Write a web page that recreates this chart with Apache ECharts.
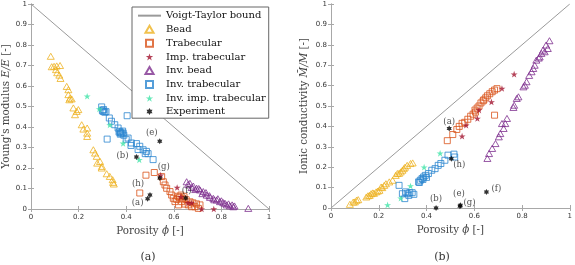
<!DOCTYPE html>
<html><head><meta charset="utf-8">
<script src="https://cdn.jsdelivr.net/npm/echarts@6/dist/echarts.min.js"></script>
<style>html,body{margin:0;padding:0;background:#fff}#c{width:575px;height:265px}</style>
</head><body><div id="c"></div><script>
// ---- tick labels ----
const xTicks = [0, 0.2, 0.4, 0.6, 0.8, 1];
const yTicks = [0, 0.1, 0.2, 0.3, 0.4, 0.5, 0.6, 0.7, 0.8, 0.9, 1];

// ---- bound lines ----
const voigtA = [[0, 1], [1, 0]];
const voigtB = [[0, 0], [1, 1]];

// ---- (a) Young's modulus vs porosity ----
const beadA = [[0.083,0.745],[0.087,0.694],[0.097,0.696],[0.108,0.698],[0.122,0.700],[0.105,0.680],[0.110,0.665],[0.119,0.653],[0.124,0.637],
  [0.150,0.598],[0.157,0.582],[0.157,0.558],[0.164,0.541],[0.161,0.533],[0.171,0.537],[0.178,0.493],[0.192,0.476],[0.185,0.460],[0.199,0.485],
  [0.213,0.411],[0.220,0.390],[0.236,0.395],[0.236,0.370],[0.236,0.354],[0.262,0.289],[0.269,0.273],[0.276,0.257],[0.278,0.224],[0.290,0.232],
  [0.298,0.208],[0.297,0.200],[0.318,0.172],[0.331,0.159],[0.343,0.143],[0.345,0.130],[0.348,0.122]];
const trabA = [[0.457,0.078],[0.483,0.165],[0.518,0.178],[0.549,0.158],[0.556,0.133],[0.563,0.117],[0.570,0.101],[0.584,0.085],[0.591,0.068],
  [0.598,0.052],[0.605,0.036],[0.612,0.047],[0.618,0.062],[0.624,0.057],[0.630,0.068],[0.633,0.036],[0.638,0.050],[0.643,0.060],[0.647,0.024],
  [0.652,0.045],[0.661,0.020],[0.668,0.035],[0.675,0.011],[0.680,0.030],[0.689,0.011],[0.695,0.025],[0.703,0.003],[0.710,0.020],[0.620,0.020]];
const impTrabA = [[0.545,0.165],[0.614,0.105],[0.630,0.060],[0.660,0.030],[0.675,0.030],[0.717,0.000],[0.768,0.000]];
const invBeadA = [[0.654,0.133],[0.668,0.125],[0.682,0.112],[0.696,0.101],[0.710,0.093],[0.724,0.085],[0.738,0.068],[0.752,0.057],[0.766,0.052],
  [0.780,0.044],[0.794,0.036],[0.808,0.031],[0.822,0.020],[0.836,0.015],[0.850,0.011],[0.913,0.003],[0.660,0.120],[0.675,0.105],[0.690,0.095],
  [0.705,0.100],[0.720,0.075],[0.735,0.080],[0.750,0.065],[0.770,0.045],[0.785,0.050],[0.800,0.040],[0.815,0.028],[0.830,0.025],[0.845,0.020],[0.855,0.015]];
const invTrabA = [[0.297,0.498],[0.303,0.476],[0.310,0.472],[0.300,0.480],[0.305,0.485],[0.315,0.475],[0.329,0.444],[0.338,0.428],[0.352,0.411],
  [0.366,0.395],[0.373,0.379],[0.376,0.371],[0.387,0.371],[0.370,0.375],[0.375,0.365],[0.380,0.370],[0.385,0.380],[0.390,0.360],[0.404,0.455],
  [0.320,0.341],[0.400,0.340],[0.408,0.346],[0.422,0.322],[0.420,0.310],[0.443,0.319],[0.457,0.306],[0.450,0.290],[0.471,0.289],[0.485,0.281],
  [0.480,0.270],[0.492,0.270],[0.513,0.241]];
const invImpA = [[0.236,0.550],[0.287,0.488],[0.331,0.410],[0.387,0.320],[0.455,0.240]];
const expLabels = ['(a)', '(b)', '(e)', '(f)', '(g)', '(h)'];
const expA = [[0.490,0.050],[0.443,0.254],[0.541,0.330],[0.650,0.054],[0.541,0.151],[0.500,0.068]];

// ---- (b) ionic conductivity vs porosity ----
const beadB = [[0.079,0.018],[0.093,0.029],[0.107,0.038],[0.114,0.041],[0.100,0.030],[0.148,0.054],[0.162,0.062],[0.168,0.070],[0.175,0.074],
  [0.189,0.079],[0.196,0.083],[0.203,0.087],[0.210,0.103],[0.223,0.111],[0.230,0.119],[0.244,0.128],[0.258,0.136],[0.271,0.160],[0.278,0.169],
  [0.292,0.177],[0.299,0.185],[0.305,0.193],[0.319,0.209],[0.333,0.218],[0.342,0.221],[0.155,0.060],[0.180,0.072],[0.215,0.100],[0.285,0.170],[0.310,0.200]];
const trabB = [[0.487,0.330],[0.510,0.360],[0.527,0.385],[0.537,0.400],[0.549,0.415],[0.560,0.420],[0.573,0.435],[0.585,0.450],[0.595,0.460],
  [0.603,0.480],[0.612,0.490],[0.620,0.500],[0.628,0.515],[0.637,0.525],[0.648,0.540],[0.655,0.550],[0.665,0.560],[0.675,0.570],[0.685,0.578],
  [0.695,0.585],[0.685,0.455],[0.605,0.470],[0.640,0.530]];
const impTrabB = [[0.549,0.352],[0.566,0.406],[0.613,0.439],[0.672,0.520],[0.716,0.586],[0.767,0.656],[0.620,0.480]];
const invBeadB = [[0.915,0.820],[0.901,0.799],[0.908,0.782],[0.888,0.774],[0.881,0.758],[0.874,0.741],[0.860,0.725],[0.853,0.700],[0.847,0.684],
  [0.840,0.668],[0.819,0.619],[0.812,0.602],[0.806,0.594],[0.785,0.545],[0.778,0.537],[0.767,0.504],[0.764,0.493],[0.737,0.439],[0.730,0.414],
  [0.723,0.390],[0.709,0.365],[0.703,0.349],[0.689,0.316],[0.675,0.292],[0.662,0.267],[0.655,0.243],[0.895,0.766],[0.870,0.735],[0.830,0.650],[0.716,0.414]];
const invTrabB = [[0.285,0.111],[0.299,0.070],[0.312,0.079],[0.319,0.070],[0.326,0.062],[0.347,0.067],[0.340,0.075],[0.330,0.075],[0.309,0.046],
  [0.367,0.128],[0.374,0.136],[0.381,0.144],[0.388,0.152],[0.395,0.160],[0.408,0.169],[0.422,0.185],[0.436,0.193],[0.449,0.209],[0.460,0.218],
  [0.477,0.234],[0.490,0.259],[0.515,0.264],[0.518,0.250],[0.370,0.125],[0.385,0.140],[0.400,0.150]];
const invImpB = [[0.237,0.015],[0.292,0.048],[0.333,0.108],[0.390,0.200],[0.457,0.268]];
const expB = [[0.495,0.390],[0.440,0.000],[0.540,0.008],[0.651,0.079],[0.542,0.013],[0.504,0.242]];

// ---- styling (not data) ----
const SERIF = 'DejaVu Serif';
const AX = '#a8a8a8';
const C = {bead:'#EDB120', trab:'#D95319', imp:'#A2142F', ibead:'#7E2F8E', itrab:'#2a86d0', iimp:'#40E3A8', exp:'#000'};
const TRI = 'path://M0,-1L0.866,0.5L-0.866,0.5Z';
const SQR = 'path://M-1,-1L1,-1L1,1L-1,1Z';
const PENTA = 'path://M0,-1L0.2245,-0.309L0.951,-0.309L0.3633,0.118L0.5878,0.809L0,0.382L-0.5878,0.809L-0.3633,0.118L-0.951,-0.309L-0.2245,-0.309Z';
const HEXA = 'path://M0,-1L0.289,-0.5L0.866,-0.5L0.577,0L0.866,0.5L0.289,0.5L0,1L-0.289,0.5L-0.866,0.5L-0.577,0L-0.866,-0.5L-0.289,-0.5Z';
// label offsets, same order as expLabels (a, b, e, f, g, h)
const offA = [[-10,4],[-14,-1],[-8,-9],[1,-7],[4,-11],[-12,-11]];
const offB = [[0,-7],[0,-9],[-1,-13],[10,-3],[9,-3],[8,6]];
const TITLE_FS = 10.3;

function xAx(grid, top) {
  return {type:'value', gridIndex:grid, min:xTicks[0], max:xTicks[xTicks.length-1], interval:xTicks[1]-xTicks[0],
    position: top ? 'top' : 'bottom',
    name: top ? '' : 'Porosity {i|ϕ} [-]', nameLocation:'middle', nameGap:13,
    nameTextStyle:{fontFamily:SERIF, fontSize:TITLE_FS, color:'#444', rich:{i:{fontFamily:SERIF, fontStyle:'italic', fontSize:TITLE_FS, color:'#444'}}},
    axisLine:{lineStyle:{color:AX, width:1}}, axisTick:{show:true, inside:true, length:3, lineStyle:{color:AX}},
    axisLabel:{show:!top, margin:5, fontFamily:'DejaVu Sans', fontSize:7, color:'#333',
      formatter:v => { const i = xTicks.findIndex(t => Math.abs(t - v) < 1e-9); return i >= 0 ? String(xTicks[i]) : ''; }},
    splitLine:{show:false}};
}
function yAx(grid, right, name, gap) {
  return {type:'value', gridIndex:grid, min:yTicks[0], max:yTicks[yTicks.length-1], interval:yTicks[1]-yTicks[0],
    position: right ? 'right' : 'left',
    name: right ? '' : name, nameLocation:'middle', nameGap:gap,
    nameTextStyle:{fontFamily:SERIF, fontSize:TITLE_FS, color:'#444', rich:{i:{fontFamily:SERIF, fontStyle:'italic', fontSize:TITLE_FS, color:'#444'}}},
    axisLine:{lineStyle:{color:AX, width:1}}, axisTick:{show:true, inside:true, length:3, lineStyle:{color:AX}},
    axisLabel:{show:!right, margin:4, fontFamily:'DejaVu Sans', fontSize:7, color:'#333',
      formatter:v => { const i = yTicks.findIndex(t => Math.abs(t - v) < 1e-9); return i >= 0 ? String(yTicks[i]) : ''; }},
    splitLine:{show:false}};
}
function hollow(name, data, grid, symbol, color, size) {
  return {type:'scatter', name, data, xAxisIndex:grid*2, yAxisIndex:grid*2, symbol, symbolSize:size, symbolKeepAspect:true,
    itemStyle:{color:'none', borderColor:color, borderWidth:1}, emphasis:{disabled:true}, z:3};
}
function filled(name, data, grid, symbol, color, size) {
  return {type:'scatter', name, data, xAxisIndex:grid*2, yAxisIndex:grid*2, symbol, symbolSize:size, symbolKeepAspect:true,
    itemStyle:{color:color}, emphasis:{disabled:true}, z:4};
}
function voigt(data, grid) {
  return {type:'line', name:'Voigt-Taylor bound', data, xAxisIndex:grid*2, yAxisIndex:grid*2, symbol:'none',
    lineStyle:{color:'#9a9a9a', width:1}, itemStyle:{color:'rgba(0,0,0,0)', borderWidth:0}, silent:true, z:2};
}
function exp(data, grid, offs) {
  const s = filled('Experiment', data.map((p, i) => ({value:p,
    label:{show:true, formatter:expLabels[i], position:'inside', offset:offs[i], fontFamily:SERIF, fontSize:8.5, color:'#222'}})),
    grid, HEXA, C.exp, 6);
  s.z = 5;
  return s;
}

const chart = echarts.init(document.getElementById('c'), null, {renderer:'canvas'});
chart.setOption({
  animation:false,
  backgroundColor:'#fff',
  grid:[{left:31, top:4, width:238, height:205}, {left:331, top:4, width:243, height:204}],
  xAxis:[xAx(0,false), xAx(0,true), xAx(1,false), xAx(1,true)],
  yAxis:[yAx(0,false,"Young's modulus {i|Ē/E} [-]",20), yAx(0,true), yAx(1,false,'Ionic conductivity {i|M̄/M} [-]',22), yAx(1,true)],
  legend:{left:132, top:7, orient:'vertical', itemWidth:23, itemHeight:7, itemGap:2, padding:[3,3,1,5],
    symbolKeepAspect:true,
    backgroundColor:'#fff', borderColor:'#666', borderWidth:1, selectedMode:false,
    textStyle:{fontFamily:SERIF, fontSize:10, color:'#111', lineHeight:11.3},
    data:['Voigt-Taylor bound','Bead','Trabecular','Imp. trabecular','Inv. bead','Inv. trabecular','Inv. imp. trabecular','Experiment']},
  graphic:[
    {type:'text', x:148, y:257, style:{text:'(a)', fontFamily:SERIF, fontSize:11, fill:'#333', textAlign:'center', textVerticalAlign:'middle'}},
    {type:'text', x:442, y:257, style:{text:'(b)', fontFamily:SERIF, fontSize:11, fill:'#333', textAlign:'center', textVerticalAlign:'middle'}}
  ],
  series:[
    voigt(voigtA,0),
    hollow('Bead', beadA, 0, TRI, C.bead, 7),
    hollow('Trabecular', trabA, 0, SQR, C.trab, 6),
    filled('Imp. trabecular', impTrabA, 0, PENTA, C.imp, 7),
    hollow('Inv. bead', invBeadA, 0, TRI, C.ibead, 7),
    hollow('Inv. trabecular', invTrabA, 0, SQR, C.itrab, 6),
    filled('Inv. imp. trabecular', invImpA, 0, PENTA, C.iimp, 7),
    exp(expA, 0, offA),
    voigt(voigtB,1),
    hollow('Bead', beadB, 1, TRI, C.bead, 7),
    hollow('Trabecular', trabB, 1, SQR, C.trab, 6),
    filled('Imp. trabecular', impTrabB, 1, PENTA, C.imp, 7),
    hollow('Inv. bead', invBeadB, 1, TRI, C.ibead, 7),
    hollow('Inv. trabecular', invTrabB, 1, SQR, C.itrab, 6),
    filled('Inv. imp. trabecular', invImpB, 1, PENTA, C.iimp, 7),
    exp(expB, 1, offB)
  ]
});
</script></body></html>
